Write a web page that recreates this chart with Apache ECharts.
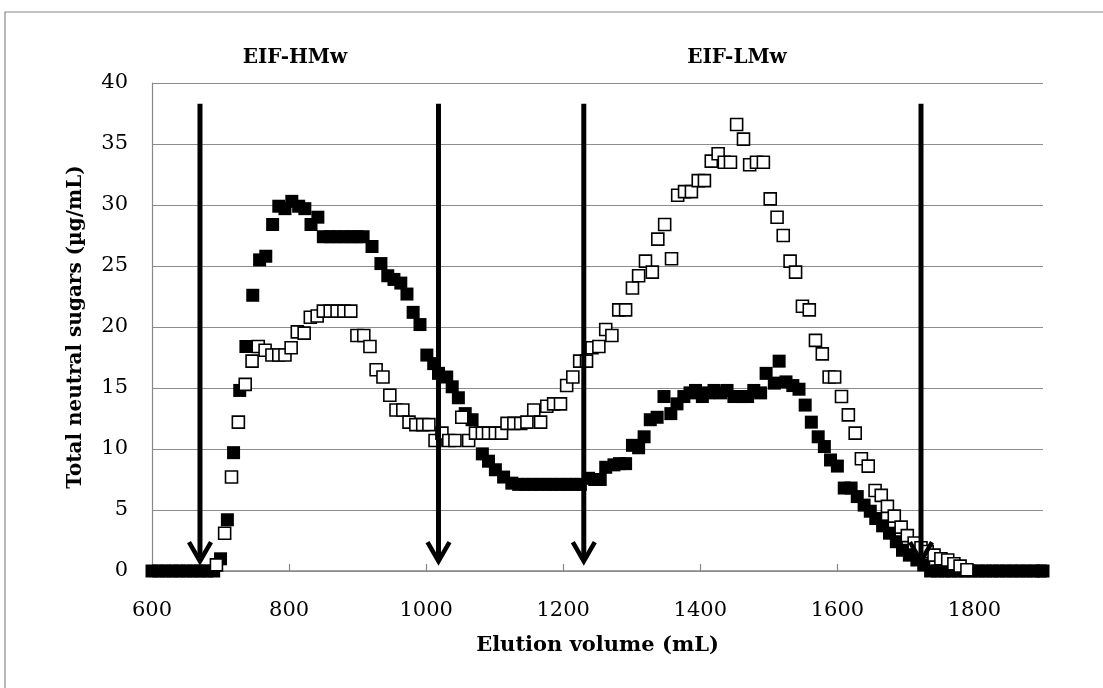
<!DOCTYPE html>
<html>
<head>
<meta charset="utf-8">
<script src="https://cdn.jsdelivr.net/npm/echarts@6/dist/echarts.min.js"></script>
<style>
  html, body { margin: 0; padding: 0; background: #fff; }
  #chart { width: 1103px; height: 688px; }
</style>
</head>
<body>
<div id="chart"></div>
<script>
// ---- data ----
const xTicks = [600, 800, 1000, 1200, 1400, 1600, 1800];
const yTicks = [0, 5, 10, 15, 20, 25, 30, 35, 40];

// EIF filled squares: elution volume (mL)
const filledX = [600, 610, 620, 630, 640, 650, 660, 670, 680, 690,
  700, 710, 719, 728, 737, 747, 757, 766, 776, 785, 794, 804, 814, 823, 832, 842,
  850, 860, 870, 880, 890, 899, 908, 921, 934, 944, 953, 963, 972, 981, 991,
  1001, 1011, 1018, 1030, 1038, 1047, 1057, 1067, 1082, 1091, 1101, 1113, 1125,
  1135, 1145, 1155, 1165, 1175, 1185, 1195, 1205, 1215, 1225, 1237, 1246, 1254,
  1262, 1274, 1282, 1291, 1301, 1310, 1318, 1327, 1337, 1347, 1357, 1366, 1376,
  1385, 1393, 1403, 1412, 1420, 1430, 1439, 1449, 1459, 1469, 1478, 1488, 1496,
  1508, 1515, 1525, 1535, 1544, 1553, 1562, 1572, 1581, 1590, 1600, 1610, 1620,
  1629, 1639, 1648, 1656, 1666, 1676, 1686, 1695, 1705, 1716, 1726,
  1736, 1746, 1756, 1766, 1776, 1786, 1796, 1806, 1816, 1826, 1836, 1846, 1856,
  1866, 1876, 1886, 1896, 1900];
// total neutral sugars (µg/mL)
const filledY = [0, 0, 0, 0, 0, 0, 0, 0, 0, 0,
  1.0, 4.2, 9.7, 14.8, 18.4, 22.6, 25.5, 25.8, 28.4, 29.9, 29.7, 30.3, 29.9, 29.7, 28.4, 29.0,
  27.4, 27.4, 27.4, 27.4, 27.4, 27.4, 27.4, 26.6, 25.2, 24.2, 23.9, 23.6, 22.7, 21.2, 20.2,
  17.7, 17.0, 16.2, 15.9, 15.1, 14.2, 12.9, 12.4, 9.6, 9.0, 8.3, 7.7, 7.2,
  7.1, 7.1, 7.1, 7.1, 7.1, 7.1, 7.1, 7.1, 7.1, 7.1, 7.6, 7.5, 7.5,
  8.5, 8.7, 8.8, 8.8, 10.3, 10.1, 11.0, 12.4, 12.6, 14.3, 12.9, 13.7, 14.3,
  14.6, 14.8, 14.3, 14.6, 14.8, 14.6, 14.8, 14.3, 14.3, 14.3, 14.8, 14.6, 16.2,
  15.4, 17.2, 15.5, 15.2, 14.9, 13.6, 12.2, 11.0, 10.2, 9.1, 8.6, 6.8, 6.8,
  6.1, 5.4, 4.9, 4.3, 3.7, 3.1, 2.4, 1.7, 1.3, 0.9, 0.5,
  0, 0, 0, 0, 0, 0, 0, 0, 0, 0, 0, 0, 0,
  0, 0, 0, 0, 0];

// open squares
const hollowX = [694, 706, 716, 726, 736, 746, 755, 765, 775, 785, 794, 803, 812, 822,
  831, 841, 850, 860, 870, 880, 890, 899, 909, 918, 927, 937, 947, 956, 966, 975,
  985, 995, 1004, 1013, 1023, 1033, 1042, 1052, 1062, 1072, 1082, 1091, 1101, 1110,
  1118, 1128, 1138, 1147, 1157, 1167, 1176, 1186, 1196, 1205, 1214, 1224, 1234,
  1242, 1252, 1262, 1271, 1281, 1291, 1301, 1310, 1320, 1330, 1338, 1348, 1358,
  1367, 1377, 1387, 1397, 1406, 1416, 1426, 1435, 1444, 1453, 1463, 1472, 1482,
  1492, 1502, 1512, 1521, 1531, 1539, 1549, 1559, 1568, 1578, 1588, 1596, 1606,
  1616, 1626, 1635, 1645, 1655, 1664, 1673, 1683, 1693, 1702, 1712, 1722, 1731,
  1741, 1751, 1761, 1770, 1779, 1789];
const hollowY = [0.5, 3.1, 7.7, 12.2, 15.3, 17.2, 18.4, 18.1, 17.7, 17.7, 17.7, 18.3, 19.6, 19.5,
  20.8, 20.9, 21.3, 21.3, 21.3, 21.3, 21.3, 19.3, 19.3, 18.4, 16.5, 15.9, 14.4, 13.2, 13.2, 12.2,
  12.0, 12.0, 12.0, 10.7, 11.3, 10.7, 10.7, 12.6, 10.7, 11.3, 11.3, 11.3, 11.3, 11.3,
  12.1, 12.1, 12.1, 12.2, 13.2, 12.2, 13.5, 13.7, 13.7, 15.2, 15.9, 17.2, 17.2,
  18.3, 18.4, 19.8, 19.3, 21.4, 21.4, 23.2, 24.2, 25.4, 24.5, 27.2, 28.4, 25.6,
  30.8, 31.1, 31.1, 32.0, 32.0, 33.6, 34.2, 33.5, 33.5, 36.6, 35.4, 33.3, 33.5,
  33.5, 30.5, 29.0, 27.5, 25.4, 24.5, 21.7, 21.4, 18.9, 17.8, 15.9, 15.9, 14.3,
  12.8, 11.3, 9.2, 8.6, 6.6, 6.2, 5.3, 4.5, 3.6, 2.9, 2.3, 1.9, 1.6,
  1.3, 1.0, 0.9, 0.6, 0.4, 0.1];

// fraction cut arrows (mL)
const arrowX = [670, 1018, 1230, 1722];
const arrowTop = 38.3;
const arrowTip = 0.8;

const regionLabels = ['EIF-HMw', 'EIF-LMw'];

// ---- chart ----
const zip = (xs, ys) => xs.map((x, i) => [x, ys[i]]);
const chart = echarts.init(document.getElementById('chart'), null, { renderer: 'canvas' });

const serif = 'DejaVu Serif';
const labelFont = 'bold 20px "DejaVu Serif"';
const option = {
  animation: false,
  backgroundColor: '#fff',
  grid: { left: 152, right: 60, top: 83, bottom: 117, containLabel: false },
  xAxis: {
    type: 'value', min: 600, max: 1900, interval: 200,
    name: 'Elution volume (mL)', nameLocation: 'middle', nameGap: 64,
    nameTextStyle: { fontFamily: serif, fontWeight: 'bold', fontSize: 21, color: '#000' },
    axisLine: { show: true, lineStyle: { color: '#888', width: 1.5 } },
    axisTick: { show: true, inside: true, length: 7, customValues: xTicks, lineStyle: { color: '#888', width: 1.2 } },
    axisLabel: { customValues: xTicks, fontFamily: serif, fontSize: 21, color: '#000', margin: 29,
      formatter: v => String(v) },
    splitLine: { show: false }
  },
  yAxis: {
    type: 'value', min: 0, max: 40, interval: 5,
    name: 'Total neutral sugars (µg/mL)', nameLocation: 'middle', nameGap: 66,
    nameTextStyle: { fontFamily: serif, fontWeight: 'bold', fontSize: 20, color: '#000' },
    axisLine: { show: true, lineStyle: { color: '#888', width: 1.2 } },
    axisTick: { show: false },
    axisLabel: { customValues: yTicks, fontFamily: serif, fontSize: 21, color: '#000', margin: 24,
      formatter: v => String(v) },
    splitLine: { show: true, lineStyle: { color: '#8c8c8c', width: 1.2 } }
  },
  graphic: [
    { type: 'rect', shape: { x: 5, y: 12, width: 1120, height: 700 },
      style: { fill: 'none', stroke: '#888', lineWidth: 1.2 }, silent: true, z: -10 },
    { type: 'text', x: 295, y: 58, style: { text: regionLabels[0], font: labelFont, fill: '#000', align: 'center', verticalAlign: 'middle' } },
    { type: 'text', x: 737, y: 58, style: { text: regionLabels[1], font: labelFont, fill: '#000', align: 'center', verticalAlign: 'middle' } }
  ],
  series: [
    {
      name: 'filled', type: 'scatter', symbol: 'rect', symbolSize: 13,
      itemStyle: { color: '#000', opacity: 1 },
      data: zip(filledX, filledY), z: 2
    },
    {
      name: 'open', type: 'scatter', symbol: 'rect', symbolSize: 12,
      itemStyle: { color: '#fff', borderColor: '#000', borderWidth: 1.6, opacity: 1 },
      data: zip(hollowX, hollowY), z: 3
    },
    {
      name: 'arrows', type: 'custom', z: 5, clip: false,
      data: arrowX.map(x => [x, arrowTip]),
      renderItem: function (params, api) {
        const x = api.value(0);
        const top = api.coord([x, arrowTop]);
        const tip = api.coord([x, arrowTip]);
        return {
          type: 'group',
          children: [
            { type: 'line', shape: { x1: top[0], y1: top[1], x2: tip[0], y2: tip[1] - 3 },
              style: { stroke: '#000', lineWidth: 5 } },
            { type: 'polyline', shape: { points: [[tip[0] - 11, tip[1] - 19], [tip[0], tip[1]], [tip[0] + 11, tip[1] - 19]] },
              style: { stroke: '#000', lineWidth: 4.5, fill: null, lineJoin: 'miter' } }
          ]
        };
      }
    }
  ]
};
chart.setOption(option);
</script>
</body>
</html>
